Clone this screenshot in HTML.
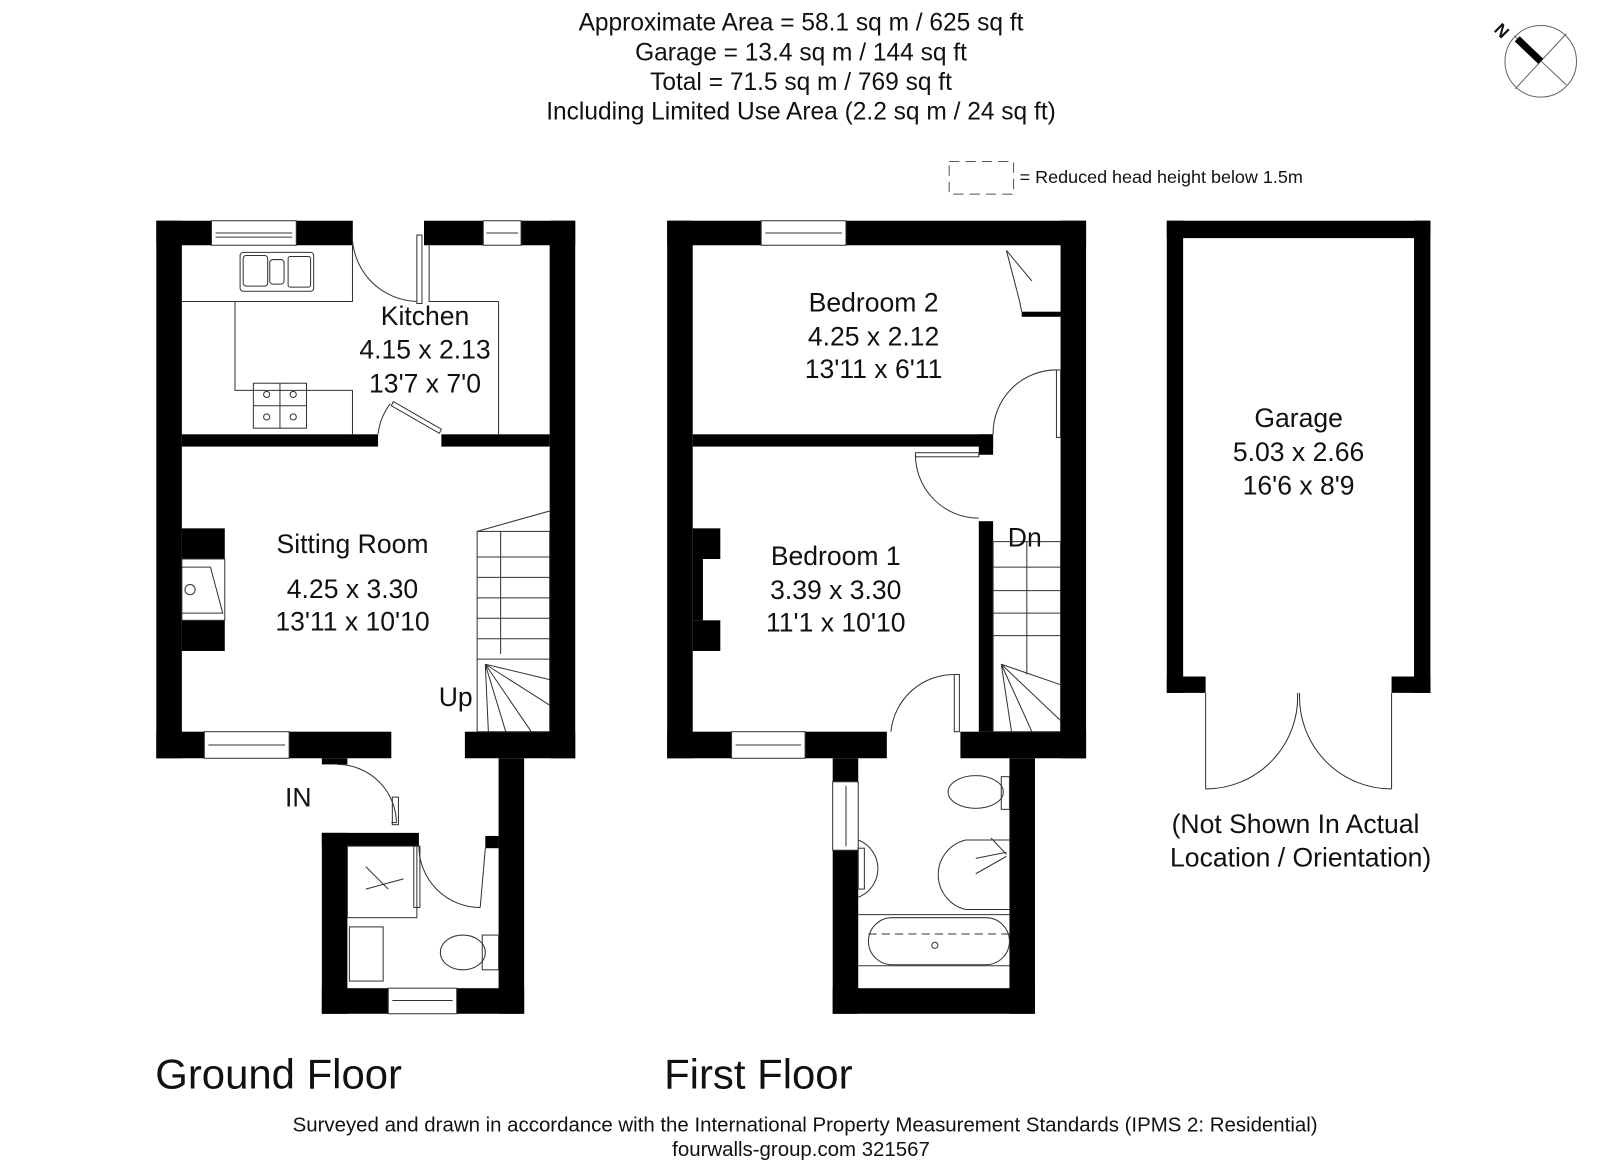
<!DOCTYPE html>
<html><head><meta charset="utf-8"><style>
html,body{margin:0;padding:0;background:#fff;}
svg{display:block;}
text{font-family:"Liberation Sans",Arial,sans-serif;fill:#111;}
</style></head><body>
<svg width="1600" height="1165" viewBox="0 0 1566 1140" preserveAspectRatio="none" xmlns="http://www.w3.org/2000/svg">
<rect width="1566" height="1140" fill="#fff"/>
<g font-size="24" text-anchor="middle">
<text x="784" y="30">Approximate Area = 58.1 sq m / 625 sq ft</text>
<text x="784" y="59">Garage = 13.4 sq m / 144 sq ft</text>
<text x="784" y="88">Total = 71.5 sq m / 769 sq ft</text>
<text x="784" y="117">Including Limited Use Area (2.2 sq m / 24 sq ft)</text>
</g>
<g stroke="#666" stroke-width="1" fill="none">
<circle cx="1508" cy="60" r="35"/>
<line x1="1483" y1="87" x2="1533" y2="33"/>
<line x1="1482" y1="35" x2="1533" y2="83"/>
</g>
<line x1="1485" y1="38" x2="1508" y2="60" stroke="#000" stroke-width="7"/>
<text x="1470" y="36" font-size="17" font-weight="bold" transform="rotate(45 1470 30)" text-anchor="middle">N</text>
<rect x="929" y="158" width="63" height="32" fill="none" stroke="#555" stroke-dasharray="10,6"/>
<text x="998" y="179" font-size="17.6">= Reduced head height below 1.5m</text>

<g fill="#000">
<rect x="153" y="216" width="25" height="526"/>
<rect x="153" y="216" width="54" height="24"/>
<rect x="290" y="216" width="55" height="24"/>
<rect x="415" y="216" width="58" height="24"/>
<rect x="510" y="216" width="53" height="24"/>
<rect x="538" y="216" width="25" height="526"/>
<rect x="178" y="425" width="192" height="12"/>
<rect x="432" y="425" width="106" height="12"/>
<rect x="153" y="716" width="47" height="26"/>
<rect x="283" y="716" width="100" height="26"/>
<rect x="455" y="716" width="108" height="26"/>
<rect x="315" y="742" width="25" height="6"/>
<rect x="178" y="517" width="42" height="30"/>
<rect x="178" y="607" width="42" height="30"/>
<rect x="488" y="742" width="25" height="250"/>
<rect x="475" y="818" width="13" height="12"/>
<rect x="315" y="815" width="25" height="177"/>
<rect x="315" y="815" width="95" height="13"/>
<rect x="315" y="967" width="65" height="25"/>
<rect x="447" y="967" width="66" height="25"/>
<rect x="653" y="216" width="25" height="526"/>
<rect x="653" y="216" width="92" height="24"/>
<rect x="828" y="216" width="235" height="24"/>
<rect x="1038" y="216" width="25" height="526"/>
<rect x="678" y="425" width="294" height="12"/>
<rect x="958" y="425" width="14" height="20"/>
<rect x="958" y="510" width="14" height="206"/>
<rect x="653" y="716" width="63" height="26"/>
<rect x="788" y="716" width="80" height="26"/>
<rect x="940" y="716" width="123" height="26"/>
<rect x="678" y="517" width="27" height="30"/>
<rect x="678" y="607" width="27" height="30"/>
<rect x="678" y="547" width="10" height="60"/>
<rect x="815" y="742" width="25" height="23"/>
<rect x="815" y="832" width="25" height="160"/>
<rect x="988" y="742" width="25" height="250"/>
<rect x="815" y="967" width="198" height="25"/>
<rect x="1000" y="305" width="38" height="5"/>
<rect x="1142" y="216" width="258" height="17"/>
<rect x="1142" y="216" width="16" height="462"/>
<rect x="1384" y="216" width="16" height="462"/>
<rect x="1142" y="662" width="38" height="16"/>
<rect x="1362" y="662" width="38" height="16"/>
</g>

<g fill="none" stroke="#333" stroke-width="1">
<rect x="207" y="216" width="83" height="24"/><line x1="211" y1="228" x2="286" y2="228"/><line x1="211" y1="232" x2="286" y2="232"/>
<rect x="473" y="216" width="37" height="24"/><line x1="476" y1="228" x2="507" y2="228"/>
<rect x="200" y="716" width="83" height="26"/><line x1="204" y1="729" x2="279" y2="729"/>
<rect x="380" y="967" width="67" height="25"/><line x1="384" y1="979" x2="443" y2="979"/>
<rect x="745" y="216" width="83" height="24"/><line x1="749" y1="228" x2="824" y2="228"/>
<rect x="716" y="716" width="72" height="26"/><line x1="720" y1="729" x2="784" y2="729"/>
<rect x="815" y="765" width="25" height="67"/><line x1="828" y1="769" x2="828" y2="828"/>
<path d="M178 295 H345 V216 M230 295 V382 H345 V425"/>
<path d="M420 240 V295 H488 V425"/>
<rect x="235" y="247" width="72" height="38" rx="3"/>
<rect x="238" y="250" width="24" height="30" rx="3"/><rect x="264" y="254" width="14" height="24" rx="3"/><rect x="282" y="251" width="22" height="30" rx="2"/>
<rect x="248" y="375" width="52" height="44"/><line x1="274" y1="375" x2="274" y2="419"/><line x1="248" y1="397" x2="300" y2="397"/>
<circle cx="261" cy="386" r="3"/><circle cx="287" cy="386" r="3"/><circle cx="261" cy="408" r="3"/><circle cx="287" cy="408" r="3"/>
<path d="M345 225 A65 65 0 0 0 408 295"/><rect x="408" y="230" width="5" height="67"/>
<path d="M370 425 A60 60 0 0 1 382 395"/><path d="M385 393 L432 420 L430 424 L383 397 Z"/>
<rect x="178" y="547" width="42" height="60"/><path d="M178 555 L206 555 L218 600 L178 600"/><circle cx="186" cy="577" r="5"/>
<rect x="467" y="520" width="71" height="196"/>
<line x1="490" y1="520" x2="490" y2="640"/>
<path d="M467 520 L538 500" />
<g><line x1="467" y1="545" x2="538" y2="545"/><line x1="467" y1="565" x2="538" y2="565"/><line x1="467" y1="585" x2="538" y2="585"/><line x1="467" y1="605" x2="538" y2="605"/><line x1="467" y1="625" x2="538" y2="625"/><line x1="467" y1="645" x2="538" y2="645"/>
<path d="M475 650 L538 665 M475 650 L538 690 M475 650 L520 716 M475 650 L495 716 M475 650 L478 716"/></g>
<path d="M330 748 A58 58 0 0 1 388 805 L383 805"/><rect x="384" y="780" width="6" height="27"/>
<path d="M410 828 A60 60 0 0 0 470 888"/><rect x="405" y="828" width="6" height="60"/><line x1="470" y1="888" x2="475" y2="830"/>
<rect x="340" y="828" width="68" height="70"/><path d="M358 848 L380 870 M358 870 L395 860"/>
<rect x="342" y="907" width="33" height="53"/>
<ellipse cx="453" cy="932" rx="22" ry="17"/><rect x="472" y="915" width="16" height="34"/>
<path d="M985 245 L998 295 L1000 305"/><path d="M985 245 L1010 275"/>
<path d="M972 425 A62 62 0 0 1 1034 362"/><rect x="1034" y="362" width="4" height="66"/>
<path d="M896 445 A62 62 0 0 0 958 507"/><rect x="896" y="443" width="62" height="4"/>
<rect x="972" y="530" width="66" height="186"/><line x1="1005" y1="530" x2="1005" y2="660"/>
<g><line x1="972" y1="555" x2="1038" y2="555"/><line x1="972" y1="578" x2="1038" y2="578"/><line x1="972" y1="600" x2="1038" y2="600"/><line x1="972" y1="622" x2="1038" y2="622"/>
<path d="M980 650 L1038 670 M980 650 L1038 705 M980 650 L1010 716 M980 650 L990 716"/></g>
<path d="M872 716 A62 62 0 0 1 934 660"/><rect x="934" y="660" width="5" height="56"/>
<ellipse cx="955" cy="775" rx="27" ry="16"/><rect x="980" y="760" width="8" height="32"/>
<path d="M988 822 L945 822 A35 35 0 0 0 945 890 L988 890"/><path d="M955 840 L985 834 M955 855 L985 838 M970 820 L985 836"/>
<path d="M840 822 A30 30 0 0 1 840 878"/><rect x="840" y="830" width="6" height="40"/>
<line x1="840" y1="895" x2="988" y2="895"/><line x1="840" y1="945" x2="988" y2="945"/>
<rect x="850" y="898" width="138" height="46" rx="23"/><line x1="850" y1="914" x2="988" y2="914" stroke-dasharray="8,5"/>
<circle cx="915" cy="925" r="3"/>
<path d="M1180 678 L1180 772"/><path d="M1180 772 A90 90 0 0 0 1270 678"/>
<path d="M1362 678 L1362 772"/><path d="M1362 772 A90 90 0 0 1 1272 678"/>
</g>
<g font-size="26" text-anchor="middle">
<text x="416" y="318">Kitchen</text><text x="416" y="351">4.15 x 2.13</text><text x="416" y="384">13'7 x 7'0</text>
<text x="345" y="541">Sitting Room</text><text x="345" y="585">4.25 x 3.30</text><text x="345" y="617">13'11 x 10'10</text>
<text x="446" y="691">Up</text>
<text x="292" y="789">IN</text>
<text x="855" y="305">Bedroom 2</text><text x="855" y="338">4.25 x 2.12</text><text x="855" y="370">13'11 x 6'11</text>
<text x="818" y="553">Bedroom 1</text><text x="818" y="586">3.39 x 3.30</text><text x="818" y="618">11'1 x 10'10</text>
<text x="1003" y="535">Dn</text>
<text x="1271" y="418">Garage</text><text x="1271" y="451">5.03 x 2.66</text><text x="1271" y="484">16'6 x 8'9</text>
<text x="1268" y="815">(Not Shown In Actual</text><text x="1273" y="848">Location / Orientation)</text>
</g>
<text x="152" y="1065" font-size="41">Ground Floor</text>
<text x="650" y="1065" font-size="41">First Floor</text>
<g font-size="20" text-anchor="middle">
<text x="788" y="1107">Surveyed and drawn in accordance with the International Property Measurement Standards (IPMS 2: Residential)</text>
<text x="784" y="1131">fourwalls-group.com 321567</text>
</g>
</svg>
</body></html>
